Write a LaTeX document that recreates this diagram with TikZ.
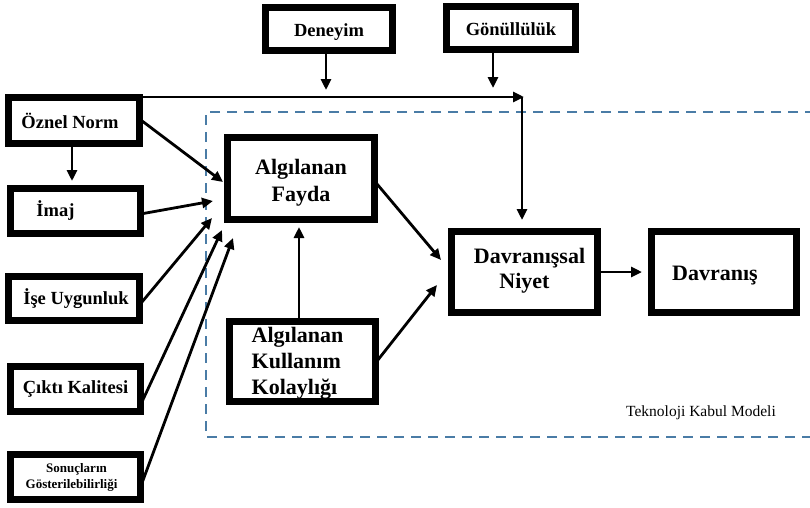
\documentclass[tikz,border=0pt]{standalone}
\usepackage{fontspec}
\setmainfont{Liberation Serif}
\usetikzlibrary{arrows.meta}
\definecolor{frameblue}{RGB}{74,124,166}
% shift a box's contents vertically without changing its reported size
\newcommand{\nudge}[2]{\raisebox{#1}[\height][\depth]{#2}}
\begin{document}
\begin{tikzpicture}[x=1pt,y=-1pt,
  box/.style={draw=black, fill=white, line width=7pt, inner sep=0pt, outer sep=0pt, align=center, font=\bfseries\fontsize{18.5}{21}\selectfont},
  bigbox/.style={box, font=\bfseries\fontsize{22}{27}\selectfont},
  link/.style={line width=2.8pt, -{Triangle[length=11pt,width=10pt]}},
  tamframe/.style={draw=frameblue, line width=2.4pt, dash pattern=on 10pt off 7pt}]
\useasboundingbox (0,0) rectangle (810,507);

% dashed frame of the technology acceptance model
\draw[tamframe] (815,112) -- (206,112) -- (206,437) -- (815,437);
\node[font=\fontsize{15.5}{18}\selectfont] (tamlabel) at (701,413) {Teknoloji Kabul Modeli};

% external factors
\node[box, minimum width=127, minimum height=43] (den) at (329,29) {\nudge{-3pt}{Deneyim}};
\node[box, minimum width=129, minimum height=43] (gon) at (511,28) {\nudge{-1pt}{Gönüllülük}};
\node[box, minimum width=131, minimum height=46] (oz) at (74,120.5) {\hspace*{-8pt}Öznel Norm};
\node[box, minimum width=130, minimum height=45] (imaj) at (75.5,211) {\hspace*{-40pt}İmaj};
\node[box, minimum width=131, minimum height=44] (ise) at (74,298.5) {\hspace*{4pt}İşe Uygunluk};
\node[box, minimum width=130, minimum height=45] (cikti) at (75.5,389) {Çıktı Kalitesi};
\node[box, minimum width=130, minimum height=45, font=\bfseries\fontsize{13}{17}\selectfont] (son) at (75.5,477) {\hspace*{2pt}Sonuçların\\[-1pt]\hspace*{-8pt}Gösterilebilirliği};

% model constructs
\node[bigbox, minimum width=147, minimum height=82] (fayda) at (301,178.5) {\nudge{-4pt}{\begin{tabular}{@{}c@{}}Algılanan\\Fayda\end{tabular}}};
\node[bigbox, minimum width=146, minimum height=80, align=left] (kk) at (302.5,361.5) {\nudge{-2pt}{\hspace*{-10pt}\begin{tabular}{@{}l@{}}Algılanan\\[-1pt]Kullanım\\[-1pt]Kolaylığı\end{tabular}}};
\node[bigbox, minimum width=146, minimum height=81] (niyet) at (524.5,272) {\nudge{1pt}{\begin{tabular}{@{}c@{}}\hspace*{10pt}Davranışsal\\[-2pt]Niyet\end{tabular}}};
\node[bigbox, minimum width=145, minimum height=81] (dav) at (724,272) {\nudge{-4pt}{\hspace*{-18pt}Davranış}};

% arrow end points
\coordinate (corner) at (523,97);
\coordinate (denTip) at (326,90);
\coordinate (gonTip) at (493,88);
\coordinate (imajTip) at (72,181);
\coordinate (ozTip) at (223,182);
\coordinate (imajFTip) at (213,201);
\coordinate (iseTip) at (212,218);
\coordinate (ciktiTip) at (222,230);
\coordinate (sonTip) at (233,238);
\coordinate (kkTip) at (299,227);
\coordinate (faydaTip) at (441,260);
\coordinate (kkNTip) at (437,285);
\coordinate (niyetTip) at (522,220);
\coordinate (davTip) at (642,272);

% connectors
\draw[link] (oz.north east |- corner) -- ([xshift=1pt]corner);
\draw[link] (corner -| niyetTip) -- (niyetTip);
\draw[link] (den.south -| denTip) -- (denTip);
\draw[link] (gon.south -| gonTip) -- (gonTip);
\draw[link] (oz.south -| imajTip) -- (imajTip);
\draw[link] ([yshift=1.5pt]oz.east) -- (ozTip);
\draw[link] ([yshift=-3pt]imaj.east) -- (imajFTip);
\draw[link] ([yshift=-6.5pt]ise.east) -- (iseTip);
\draw[link] ([yshift=-16pt]cikti.east) -- (ciktiTip);
\draw[link] ([yshift=-10pt]son.east) -- (sonTip);
\draw[link] (kk.north -| kkTip) -- (kkTip);
\draw[link] ([yshift=-2.5pt]fayda.east) -- (faydaTip);
\draw[link] ([yshift=-1.5pt]kk.east) -- (kkNTip);
\draw[link] (niyet.east |- davTip) -- (davTip);
\end{tikzpicture}
\end{document}
